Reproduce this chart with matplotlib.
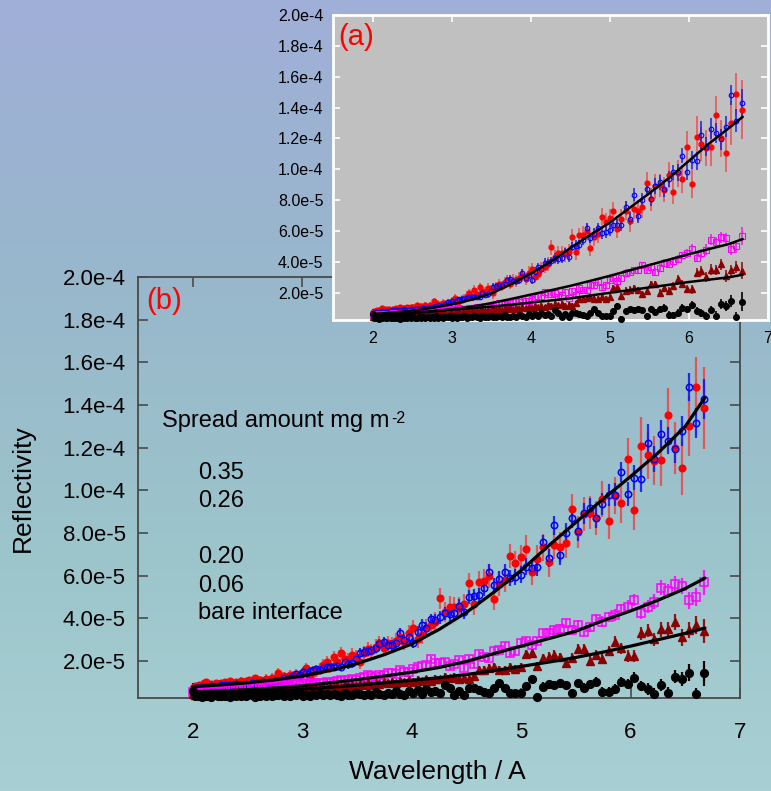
import numpy as np
import matplotlib
matplotlib.use("Agg")
import matplotlib.pyplot as plt
from matplotlib.ticker import FuncFormatter, FixedLocator

plt.rcParams['font.family'] = ['Liberation Sans', 'DejaVu Sans']

SCALE = 1e-5  # reflectivity values below are in units of 1e-5

wavelength = [
    2.000, 2.020, 2.040, 2.061, 2.081, 2.102, 2.123, 2.144, 2.166, 2.187,
    2.209, 2.231, 2.254, 2.276, 2.299, 2.322, 2.345, 2.369, 2.392, 2.416,
    2.440, 2.465, 2.489, 2.514, 2.539, 2.565, 2.591, 2.616, 2.643, 2.669,
    2.696, 2.723, 2.750, 2.777, 2.805, 2.833, 2.862, 2.890, 2.919, 2.948,
    2.978, 3.008, 3.038, 3.068, 3.099, 3.130, 3.161, 3.193, 3.224, 3.257,
    3.289, 3.322, 3.355, 3.389, 3.423, 3.457, 3.492, 3.527, 3.562, 3.597,
    3.633, 3.670, 3.706, 3.743, 3.781, 3.819, 3.857, 3.895, 3.934, 3.974,
    4.014, 4.054, 4.094, 4.135, 4.176, 4.218, 4.260, 4.303, 4.346, 4.390,
    4.433, 4.478, 4.523, 4.568, 4.613, 4.660, 4.706, 4.753, 4.801, 4.849,
    4.897, 4.946, 4.996, 5.046, 5.096, 5.147, 5.199, 5.251, 5.303, 5.356,
    5.410, 5.464, 5.518, 5.574, 5.629, 5.686, 5.742, 5.800, 5.858, 5.916,
    5.976, 6.035, 6.096, 6.157, 6.218, 6.280, 6.343, 6.407, 6.471, 6.535,
    6.601, 6.667]

# spread amount 0.35 mg m-2
r_035 = [
    0.75, 0.85, 0.80, 0.90, 0.82, 0.95, 1.03, 0.88, 0.92, 0.85,
    0.95, 0.90, 0.98, 0.92, 1.00, 0.95, 1.05, 0.98, 1.02, 0.95,
    1.08, 1.00, 1.05, 1.10, 1.02, 1.19, 1.08, 1.12, 1.05, 1.18,
    1.10, 1.22, 1.15, 1.45, 1.20, 1.28, 1.22, 1.35, 1.30, 1.38,
    1.32, 1.45, 1.66, 1.27, 1.50, 1.55, 1.62, 1.80, 1.97, 1.75,
    2.20, 1.95, 2.36, 2.12, 2.05, 2.30, 2.18, 1.97, 2.40, 2.55,
    2.45, 2.67, 2.83, 2.60, 2.83, 2.75, 2.95, 3.14, 2.90, 3.30,
    3.53, 3.05, 3.22, 3.53, 3.70, 3.85, 4.94, 4.30, 4.55, 4.55,
    4.50, 4.66, 5.64, 4.67, 5.72, 5.77, 5.99, 4.91, 5.60, 5.80,
    6.93, 6.58, 6.86, 7.27, 6.16, 6.77, 7.33, 6.64, 7.44, 7.33,
    7.55, 9.13, 8.05, 8.89, 8.96, 8.69, 9.61, 8.55, 9.75, 9.39,
    11.47, 9.08, 12.10, 11.64, 11.39, 11.42, 13.53, 12.00, 11.05, 13.00,
    14.86, 13.86]
r_035_err = [
    0.10, 0.12, 0.10, 0.11, 0.12, 0.10, 0.13, 0.11, 0.12, 0.13,
    0.12, 0.14, 0.13, 0.12, 0.15, 0.14, 0.13, 0.15, 0.16, 0.14,
    0.16, 0.15, 0.17, 0.16, 0.18, 0.17, 0.16, 0.19, 0.18, 0.20,
    0.19, 0.21, 0.20, 0.22, 0.21, 0.23, 0.22, 0.24, 0.23, 0.25,
    0.24, 0.26, 0.25, 0.27, 0.26, 0.28, 0.27, 0.29, 0.28, 0.30,
    0.29, 0.31, 0.30, 0.32, 0.31, 0.33, 0.32, 0.34, 0.33, 0.35,
    0.34, 0.36, 0.35, 0.37, 0.36, 0.38, 0.37, 0.40, 0.38, 0.41,
    0.40, 0.42, 0.41, 0.44, 0.42, 0.45, 0.50, 0.46, 0.48, 0.47,
    0.49, 0.48, 0.50, 0.52, 0.50, 0.53, 0.55, 0.52, 0.56, 0.58,
    0.55, 0.60, 0.58, 0.62, 0.60, 0.65, 0.63, 0.68, 0.66, 0.70,
    0.72, 0.70, 0.75, 0.78, 0.76, 0.80, 0.85, 0.82, 0.88, 0.92,
    1.00, 0.95, 1.35, 1.10, 1.15, 1.20, 1.25, 1.22, 1.25, 1.40,
    1.37, 1.90]

# spread amount 0.26 mg m-2
r_026 = [
    0.70, 0.72, 0.75, 0.70, 0.78, 0.74, 0.80, 0.76, 0.82, 0.78,
    0.84, 0.80, 0.86, 0.82, 0.88, 0.84, 0.90, 0.86, 0.92, 0.88,
    0.90, 0.86, 0.92, 0.87, 0.95, 0.92, 0.98, 0.95, 1.00, 0.97,
    1.02, 0.98, 1.05, 1.08, 1.12, 1.19, 1.15, 1.22, 1.30, 1.39,
    1.35, 1.50, 1.45, 1.52, 1.58, 1.62, 1.60, 1.66, 1.73, 1.70,
    1.73, 1.75, 1.73, 1.97, 1.85, 1.89, 2.10, 2.39, 2.44, 2.48,
    2.52, 2.59, 2.80, 2.89, 2.75, 2.75, 2.83, 3.30, 2.98, 3.14,
    2.86, 3.37, 3.69, 3.53, 3.95, 3.92, 4.05, 4.24, 4.19, 4.24,
    4.59, 4.32, 5.00, 5.05, 5.08, 5.42, 6.19, 5.55, 5.83, 6.17,
    5.89, 5.94, 6.05, 6.42, 6.38, 6.42, 7.58, 6.81, 8.36, 6.95,
    8.02, 8.72, 8.09, 8.92, 9.17, 8.72, 9.38, 9.80, 9.80, 10.88,
    9.85, 10.60, 10.53, 12.20, 11.47, 12.64, 12.33, 11.94, 12.77, 14.83,
    13.16, 14.28]
r_026_err = [
    0.06, 0.07, 0.06, 0.07, 0.08, 0.07, 0.08, 0.07, 0.08, 0.09,
    0.08, 0.09, 0.08, 0.09, 0.10, 0.09, 0.10, 0.09, 0.10, 0.11,
    0.10, 0.11, 0.10, 0.12, 0.11, 0.12, 0.11, 0.13, 0.12, 0.13,
    0.12, 0.14, 0.13, 0.14, 0.13, 0.15, 0.14, 0.15, 0.14, 0.16,
    0.15, 0.16, 0.15, 0.17, 0.16, 0.17, 0.18, 0.17, 0.18, 0.19,
    0.18, 0.19, 0.20, 0.19, 0.20, 0.21, 0.20, 0.22, 0.21, 0.22,
    0.21, 0.23, 0.22, 0.24, 0.23, 0.25, 0.24, 0.26, 0.25, 0.27,
    0.26, 0.28, 0.27, 0.29, 0.28, 0.30, 0.29, 0.31, 0.30, 0.32,
    0.31, 0.33, 0.32, 0.34, 0.33, 0.35, 0.36, 0.34, 0.37, 0.36,
    0.38, 0.37, 0.39, 0.40, 0.38, 0.41, 0.35, 0.42, 0.44, 0.43,
    0.45, 0.47, 0.46, 0.49, 0.48, 0.50, 0.52, 0.51, 0.54, 0.47,
    0.56, 0.58, 0.60, 0.90, 0.62, 0.66, 0.64, 0.68, 0.70, 0.66,
    0.72, 0.94]

# spread amount 0.20 mg m-2
r_020 = [
    0.55, 0.58, 0.52, 0.60, 0.57, 0.62, 0.56, 0.61, 0.63, 0.58,
    0.64, 0.60, 0.66, 0.62, 0.67, 0.69, 0.63, 0.70, 0.66, 0.72,
    0.68, 0.71, 0.74, 0.70, 0.77, 0.73, 0.79, 0.75, 0.81, 0.77,
    0.83, 0.78, 0.85, 0.81, 0.87, 0.83, 0.89, 0.85, 0.91, 0.96,
    0.88, 0.94, 0.98, 0.92, 0.99, 0.94, 0.95, 0.98, 1.02, 0.96,
    1.03, 1.05, 1.11, 1.08, 1.11, 1.15, 1.10, 1.19, 1.27, 1.34,
    1.30, 1.27, 1.36, 1.34, 1.42, 1.45, 1.40, 1.58, 1.50, 1.50,
    1.62, 1.73, 1.77, 1.81, 2.08, 1.89, 1.92, 1.97, 1.75, 1.88,
    2.05, 1.69, 2.11, 1.84, 2.31, 2.17, 2.16, 2.48, 2.52, 2.70,
    2.39, 2.48, 2.86, 2.94, 2.75, 2.95, 3.30, 3.33, 3.45, 3.50,
    3.77, 3.45, 3.69, 3.38, 3.61, 3.95, 3.84, 4.08, 4.16, 4.42,
    4.55, 4.86, 4.27, 4.55, 4.78, 5.44, 5.30, 5.59, 5.52, 4.86,
    5.02, 5.69]
r_020_err = [
    0.05, 0.05, 0.06, 0.05, 0.06, 0.06, 0.05, 0.06, 0.07, 0.06,
    0.06, 0.07, 0.06, 0.07, 0.07, 0.06, 0.07, 0.08, 0.07, 0.07,
    0.08, 0.07, 0.08, 0.08, 0.07, 0.08, 0.09, 0.08, 0.08, 0.09,
    0.08, 0.09, 0.09, 0.08, 0.09, 0.10, 0.09, 0.09, 0.10, 0.09,
    0.10, 0.10, 0.09, 0.10, 0.11, 0.10, 0.10, 0.11, 0.10, 0.11,
    0.11, 0.12, 0.11, 0.11, 0.12, 0.11, 0.12, 0.12, 0.13, 0.12,
    0.12, 0.13, 0.12, 0.13, 0.13, 0.14, 0.13, 0.14, 0.13, 0.14,
    0.14, 0.15, 0.14, 0.15, 0.15, 0.14, 0.15, 0.16, 0.15, 0.16,
    0.16, 0.17, 0.16, 0.17, 0.17, 0.18, 0.17, 0.18, 0.18, 0.19,
    0.18, 0.19, 0.19, 0.20, 0.19, 0.20, 0.21, 0.20, 0.21, 0.22,
    0.21, 0.22, 0.23, 0.22, 0.23, 0.24, 0.25, 0.24, 0.26, 0.25,
    0.30, 0.27, 0.28, 0.29, 0.35, 0.36, 0.33, 0.38, 0.36, 0.40,
    0.42, 0.59]

# spread amount 0.06 mg m-2
r_006 = [
    0.45, 0.40, 0.48, 0.44, 0.42, 0.50, 0.46, 0.43, 0.49, 0.47,
    0.52, 0.45, 0.50, 0.48, 0.53, 0.49, 0.51, 0.55, 0.50, 0.54,
    0.57, 0.52, 0.56, 0.53, 0.58, 0.55, 0.60, 0.57, 0.54, 0.61,
    0.58, 0.63, 0.60, 0.57, 0.64, 0.61, 0.66, 0.62, 0.68, 0.65,
    0.70, 0.66, 0.72, 0.69, 0.74, 0.70, 0.76, 0.80, 0.74, 0.82,
    0.78, 0.85, 0.80, 0.87, 0.83, 0.90, 0.85, 0.92, 0.88, 0.95,
    0.90, 0.98, 0.93, 1.00, 0.96, 1.04, 0.98, 1.06, 1.01, 1.10,
    1.03, 1.12, 1.06, 1.15, 1.08, 1.18, 1.15, 1.27, 1.20, 1.27,
    1.15, 1.22, 1.17, 1.31, 1.58, 1.58, 1.66, 1.73, 1.58, 1.58,
    1.70, 1.61, 1.73, 2.31, 2.36, 1.77, 2.13, 2.20, 2.28, 2.17,
    1.89, 2.13, 2.55, 2.55, 2.00, 2.28, 2.12, 2.47, 2.91, 2.59,
    2.24, 2.24, 3.30, 3.42, 3.02, 3.49, 3.49, 3.84, 3.11, 3.45,
    3.69, 3.42]
r_006_err = [
    0.06, 0.06, 0.07, 0.06, 0.07, 0.07, 0.06, 0.07, 0.08, 0.07,
    0.07, 0.08, 0.07, 0.08, 0.08, 0.07, 0.08, 0.09, 0.08, 0.08,
    0.09, 0.08, 0.09, 0.09, 0.08, 0.09, 0.10, 0.09, 0.09, 0.10,
    0.09, 0.10, 0.10, 0.09, 0.10, 0.11, 0.10, 0.10, 0.11, 0.10,
    0.11, 0.11, 0.10, 0.11, 0.12, 0.11, 0.11, 0.12, 0.11, 0.12,
    0.12, 0.13, 0.12, 0.12, 0.13, 0.12, 0.13, 0.13, 0.14, 0.13,
    0.13, 0.14, 0.13, 0.14, 0.14, 0.15, 0.14, 0.15, 0.14, 0.15,
    0.15, 0.16, 0.15, 0.16, 0.16, 0.15, 0.16, 0.17, 0.16, 0.17,
    0.17, 0.18, 0.17, 0.18, 0.18, 0.19, 0.18, 0.19, 0.19, 0.20,
    0.19, 0.20, 0.20, 0.21, 0.20, 0.21, 0.22, 0.21, 0.22, 0.23,
    0.22, 0.23, 0.24, 0.23, 0.24, 0.25, 0.26, 0.25, 0.27, 0.26,
    0.28, 0.29, 0.30, 0.31, 0.30, 0.35, 0.33, 0.36, 0.38, 0.37,
    0.40, 0.55]

# bare interface
r_bare = [
    0.60, 0.35, 0.42, 0.38, 0.33, 0.40, 0.36, 0.44, 0.34, 0.39,
    0.42, 0.35, 0.38, 0.45, 0.36, 0.40, 0.33, 0.41, 0.38, 0.44,
    0.35, 0.40, 0.37, 0.45, 0.39, 0.34, 0.42, 0.38, 0.46, 0.36,
    0.41, 0.35, 0.43, 0.39, 0.47, 0.37, 0.42, 0.36, 0.44, 0.40,
    0.48, 0.38, 0.43, 0.37, 0.45, 0.41, 0.50, 0.39, 0.44, 0.40,
    0.47, 0.42, 0.38, 0.49, 0.43, 0.40, 0.52, 0.44, 0.41, 0.48,
    0.43, 0.55, 0.46, 0.41, 0.50, 0.45, 0.58, 0.48, 0.42, 0.60,
    0.52, 0.64, 0.47, 0.70, 0.55, 0.62, 0.50, 0.88, 0.72, 0.41,
    0.61, 0.41, 0.72, 0.72, 0.64, 0.56, 0.52, 0.72, 0.98, 0.72,
    0.52, 0.52, 0.52, 0.83, 1.14, 0.33, 0.80, 0.92, 0.88, 0.95,
    0.88, 0.49, 0.95, 0.75, 0.92, 1.03, 0.56, 0.56, 0.69, 1.03,
    0.92, 1.23, 0.83, 0.69, 0.48, 0.88, 0.52, 1.27, 1.16, 1.45,
    0.45, 1.42]
r_bare_err = [
    0.35, 0.08, 0.07, 0.08, 0.07, 0.08, 0.07, 0.08, 0.08, 0.07,
    0.08, 0.08, 0.07, 0.08, 0.08, 0.09, 0.08, 0.08, 0.09, 0.08,
    0.09, 0.08, 0.09, 0.09, 0.08, 0.09, 0.09, 0.10, 0.09, 0.09,
    0.10, 0.09, 0.10, 0.10, 0.09, 0.10, 0.10, 0.11, 0.10, 0.10,
    0.11, 0.10, 0.11, 0.11, 0.10, 0.11, 0.12, 0.11, 0.11, 0.12,
    0.11, 0.12, 0.12, 0.11, 0.12, 0.13, 0.12, 0.12, 0.13, 0.12,
    0.13, 0.13, 0.12, 0.13, 0.14, 0.13, 0.13, 0.14, 0.13, 0.14,
    0.14, 0.15, 0.14, 0.14, 0.15, 0.14, 0.15, 0.16, 0.15, 0.15,
    0.16, 0.15, 0.16, 0.16, 0.17, 0.16, 0.17, 0.17, 0.18, 0.17,
    0.18, 0.18, 0.19, 0.18, 0.19, 0.19, 0.20, 0.19, 0.20, 0.21,
    0.20, 0.21, 0.21, 0.22, 0.21, 0.22, 0.23, 0.22, 0.23, 0.24,
    0.23, 0.27, 0.25, 0.26, 0.25, 0.27, 0.28, 0.30, 0.32, 0.40,
    0.30, 0.60]

# model curves
fit_wavelength = [2.0, 2.25, 2.5, 2.75, 3.0, 3.25, 3.5, 3.75, 4.0, 4.25,
                  4.5, 4.75, 5.0, 5.25, 5.5, 5.75, 6.0, 6.25, 6.5, 6.68]
fit_b_high = [0.80, 0.88, 0.98, 1.12, 1.30, 1.55, 1.88, 2.30, 2.80, 3.48,
              4.28, 5.22, 6.25, 7.40, 8.50, 9.60, 10.65, 11.75, 13.00, 14.35]
fit_b_020 = [0.55, 0.60, 0.66, 0.74, 0.84, 0.98, 1.13, 1.30, 1.48, 1.70,
             1.98, 2.35, 2.70, 3.05, 3.40, 3.90, 4.35, 4.85, 5.40, 5.89]
fit_b_006 = [0.42, 0.47, 0.53, 0.60, 0.68, 0.77, 0.87, 0.98, 1.10, 1.22,
             1.37, 1.55, 1.75, 1.95, 2.17, 2.42, 2.70, 3.00, 3.30, 3.55]
fit_a_high = [0.62, 0.72, 0.85, 1.02, 1.25, 1.55, 1.95, 2.55, 3.25, 4.00,
              4.90, 5.75, 6.55, 7.50, 8.45, 9.45, 10.55, 11.65, 12.65, 13.40]
fit_a_020 = [0.55, 0.62, 0.71, 0.81, 0.93, 1.10, 1.33, 1.60, 1.88, 2.16,
             2.45, 2.77, 3.10, 3.45, 3.80, 4.15, 4.50, 4.83, 5.15, 5.48]
fit_a_006 = [0.50, 0.58, 0.68, 0.78, 0.90, 1.00, 1.10, 1.23, 1.37, 1.50,
             1.64, 1.82, 2.00, 2.17, 2.35, 2.52, 2.70, 2.85, 3.00, 3.17]

legend_title = "Spread amount mg m"
legend_title_exp = "-2"
legend_labels = ["0.35", "0.26", "0.20", "0.06", "bare interface"]
x_ticks = [2, 3, 4, 5, 6, 7]
y_ticks = [2.0e-5, 4.0e-5, 6.0e-5, 8.0e-5, 1.0e-4,
           1.2e-4, 1.4e-4, 1.6e-4, 1.8e-4, 2.0e-4]

W, H = 771, 791
fig = plt.figure(figsize=(W / 100, H / 100), dpi=100)

# page background: vertical gradient
bg = fig.add_axes([0, 0, 1, 1])
bg.set_zorder(0)
stops = np.array([[160, 175, 216], [152, 183, 204], [156, 197, 203], [168, 208, 212]]) / 255.0
pos = np.array([0.0, 0.35, 0.7, 1.0])
t = np.linspace(0, 1, 400)
grad = np.stack([np.interp(t, pos, stops[:, c]) for c in range(3)], axis=1)
bg.imshow(grad[:, None, :], aspect='auto', extent=[0, 1, 0, 1], origin='upper')
bg.axis('off')


def px_axes(left, top, right, bottom):
    return [left / W, 1 - bottom / H, (right - left) / W, (bottom - top) / H]


def sci_label(v, pos):
    if v <= 0:
        return ''
    e = int(np.floor(np.log10(v) + 1e-9))
    return f"{v / 10 ** e:.1f}e{e}"


styles = [
    (r_035, r_035_err, dict(marker='o', mfc='#ff0000', mec='#ff0000', ms=4.8), '#ff2a2a', 0.7),
    (r_026, r_026_err, dict(marker='o', mfc='none', mec='#0000ff', ms=4.6, mew=1.1), '#1010ee', 0.85),
    (r_020, r_020_err, dict(marker='s', mfc='none', mec='#ff00ff', ms=6.0, mew=1.1), '#ff00ff', 0.85),
    (r_006, r_006_err, dict(marker='^', mfc='#8b0000', mec='#8b0000', ms=6.0), '#8b0000', 0.9),
    (r_bare, r_bare_err, dict(marker='o', mfc='#000000', mec='#000000', ms=5.6), '#000000', 1.0),
]


def draw_data(ax, k, elw, fits, fit_lw):
    x = np.asarray(wavelength)
    for vals, errs, st, ecol, ea in styles:
        y = np.asarray(vals) * SCALE
        e = np.asarray(errs) * SCALE
        ax.errorbar(x, y, yerr=e, fmt='none', ecolor=ecol, alpha=ea,
                    elinewidth=elw, capsize=0, zorder=2)
        s = dict(st)
        s['ms'] = st['ms'] * k
        if 'mew' in s:
            s['mew'] = st['mew'] * k
        ax.plot(x, y, ls='none', zorder=3, clip_on=False, **s)
    for f in fits:
        ax.plot(fit_wavelength, np.asarray(f) * SCALE, color='k', lw=fit_lw,
                zorder=4, solid_capstyle='round', solid_joinstyle='round')


# main panel (b)
ax = fig.add_axes(px_axes(138, 277, 740, 698))
ax.set_zorder(1)
ax.patch.set_alpha(0)
ax.set_xlim(1.5, 7.0)
ax.set_ylim(2.7e-6, 2.0e-4)
draw_data(ax, 1.0, 1.6, [fit_b_high, fit_b_020, fit_b_006], 2.3)
ax.xaxis.set_major_locator(FixedLocator(x_ticks))
ax.yaxis.set_major_locator(FixedLocator(y_ticks))
ax.yaxis.set_major_formatter(FuncFormatter(sci_label))
for sp in ax.spines.values():
    sp.set_color('#4a4a4a')
    sp.set_linewidth(1.3)
ax.tick_params(direction='in', length=7, width=1.2, color='#4a4a4a',
               top=True, right=True, labelsize=16, labelcolor='black')
ax.tick_params(axis='x', pad=17)
ax.tick_params(axis='y', pad=9)

ax.text(0.013, 0.943, "(b)", color='red', fontsize=21, transform=ax.transAxes,
        ha='left', va='center')
title_txt = ax.text(0.040, 0.6437, legend_title, fontsize=17,
                    transform=ax.transAxes, ha='left', va='baseline')
ax.annotate(legend_title_exp, xy=(1.0, 0.95), xycoords=title_txt,
            xytext=(1, 0), textcoords='offset points',
            fontsize=11.5, ha='left', va='top')
label_y = [0.5202, 0.4530, 0.3200, 0.2525, 0.1876]
for lab, yy in zip(legend_labels, label_y):
    ax.text(0.0997, yy, lab, fontsize=17, transform=ax.transAxes,
            ha='left', va='baseline')

fig.text(437 / W, 1 - 772 / H, "Wavelength / A", fontsize=19,
         ha='center', va='center')
fig.text(23 / W, 1 - 488 / H, "Reflectivity", fontsize=19, rotation=90,
         ha='center', va='center')

# inset panel (a)
ins = fig.add_axes(px_axes(333, 15, 768, 319.5))
ins.set_zorder(2)
ins.set_facecolor('#c0c0c0')
ins.set_xlim(1.5, 7.0)
ins.set_ylim(2.7e-6, 2.0e-4)
draw_data(ins, 0.72, 1.2, [fit_a_high, fit_a_020, fit_a_006], 1.8)
ins.xaxis.set_major_locator(FixedLocator(x_ticks))
ins.yaxis.set_major_locator(FixedLocator(y_ticks))
ins.yaxis.set_major_formatter(FuncFormatter(sci_label))
for sp in ins.spines.values():
    sp.set_color('white')
    sp.set_linewidth(2.0)
ins.tick_params(direction='in', length=5, width=1.2, color='white',
                top=True, right=True, labelsize=11.5, labelcolor='black')
ins.tick_params(axis='x', pad=8)
ins.tick_params(axis='y', pad=7)
ins.text(0.012, 0.928, "(a)", color='red', fontsize=21, transform=ins.transAxes,
         ha='left', va='center')

fig.savefig("out.png", dpi=100)
